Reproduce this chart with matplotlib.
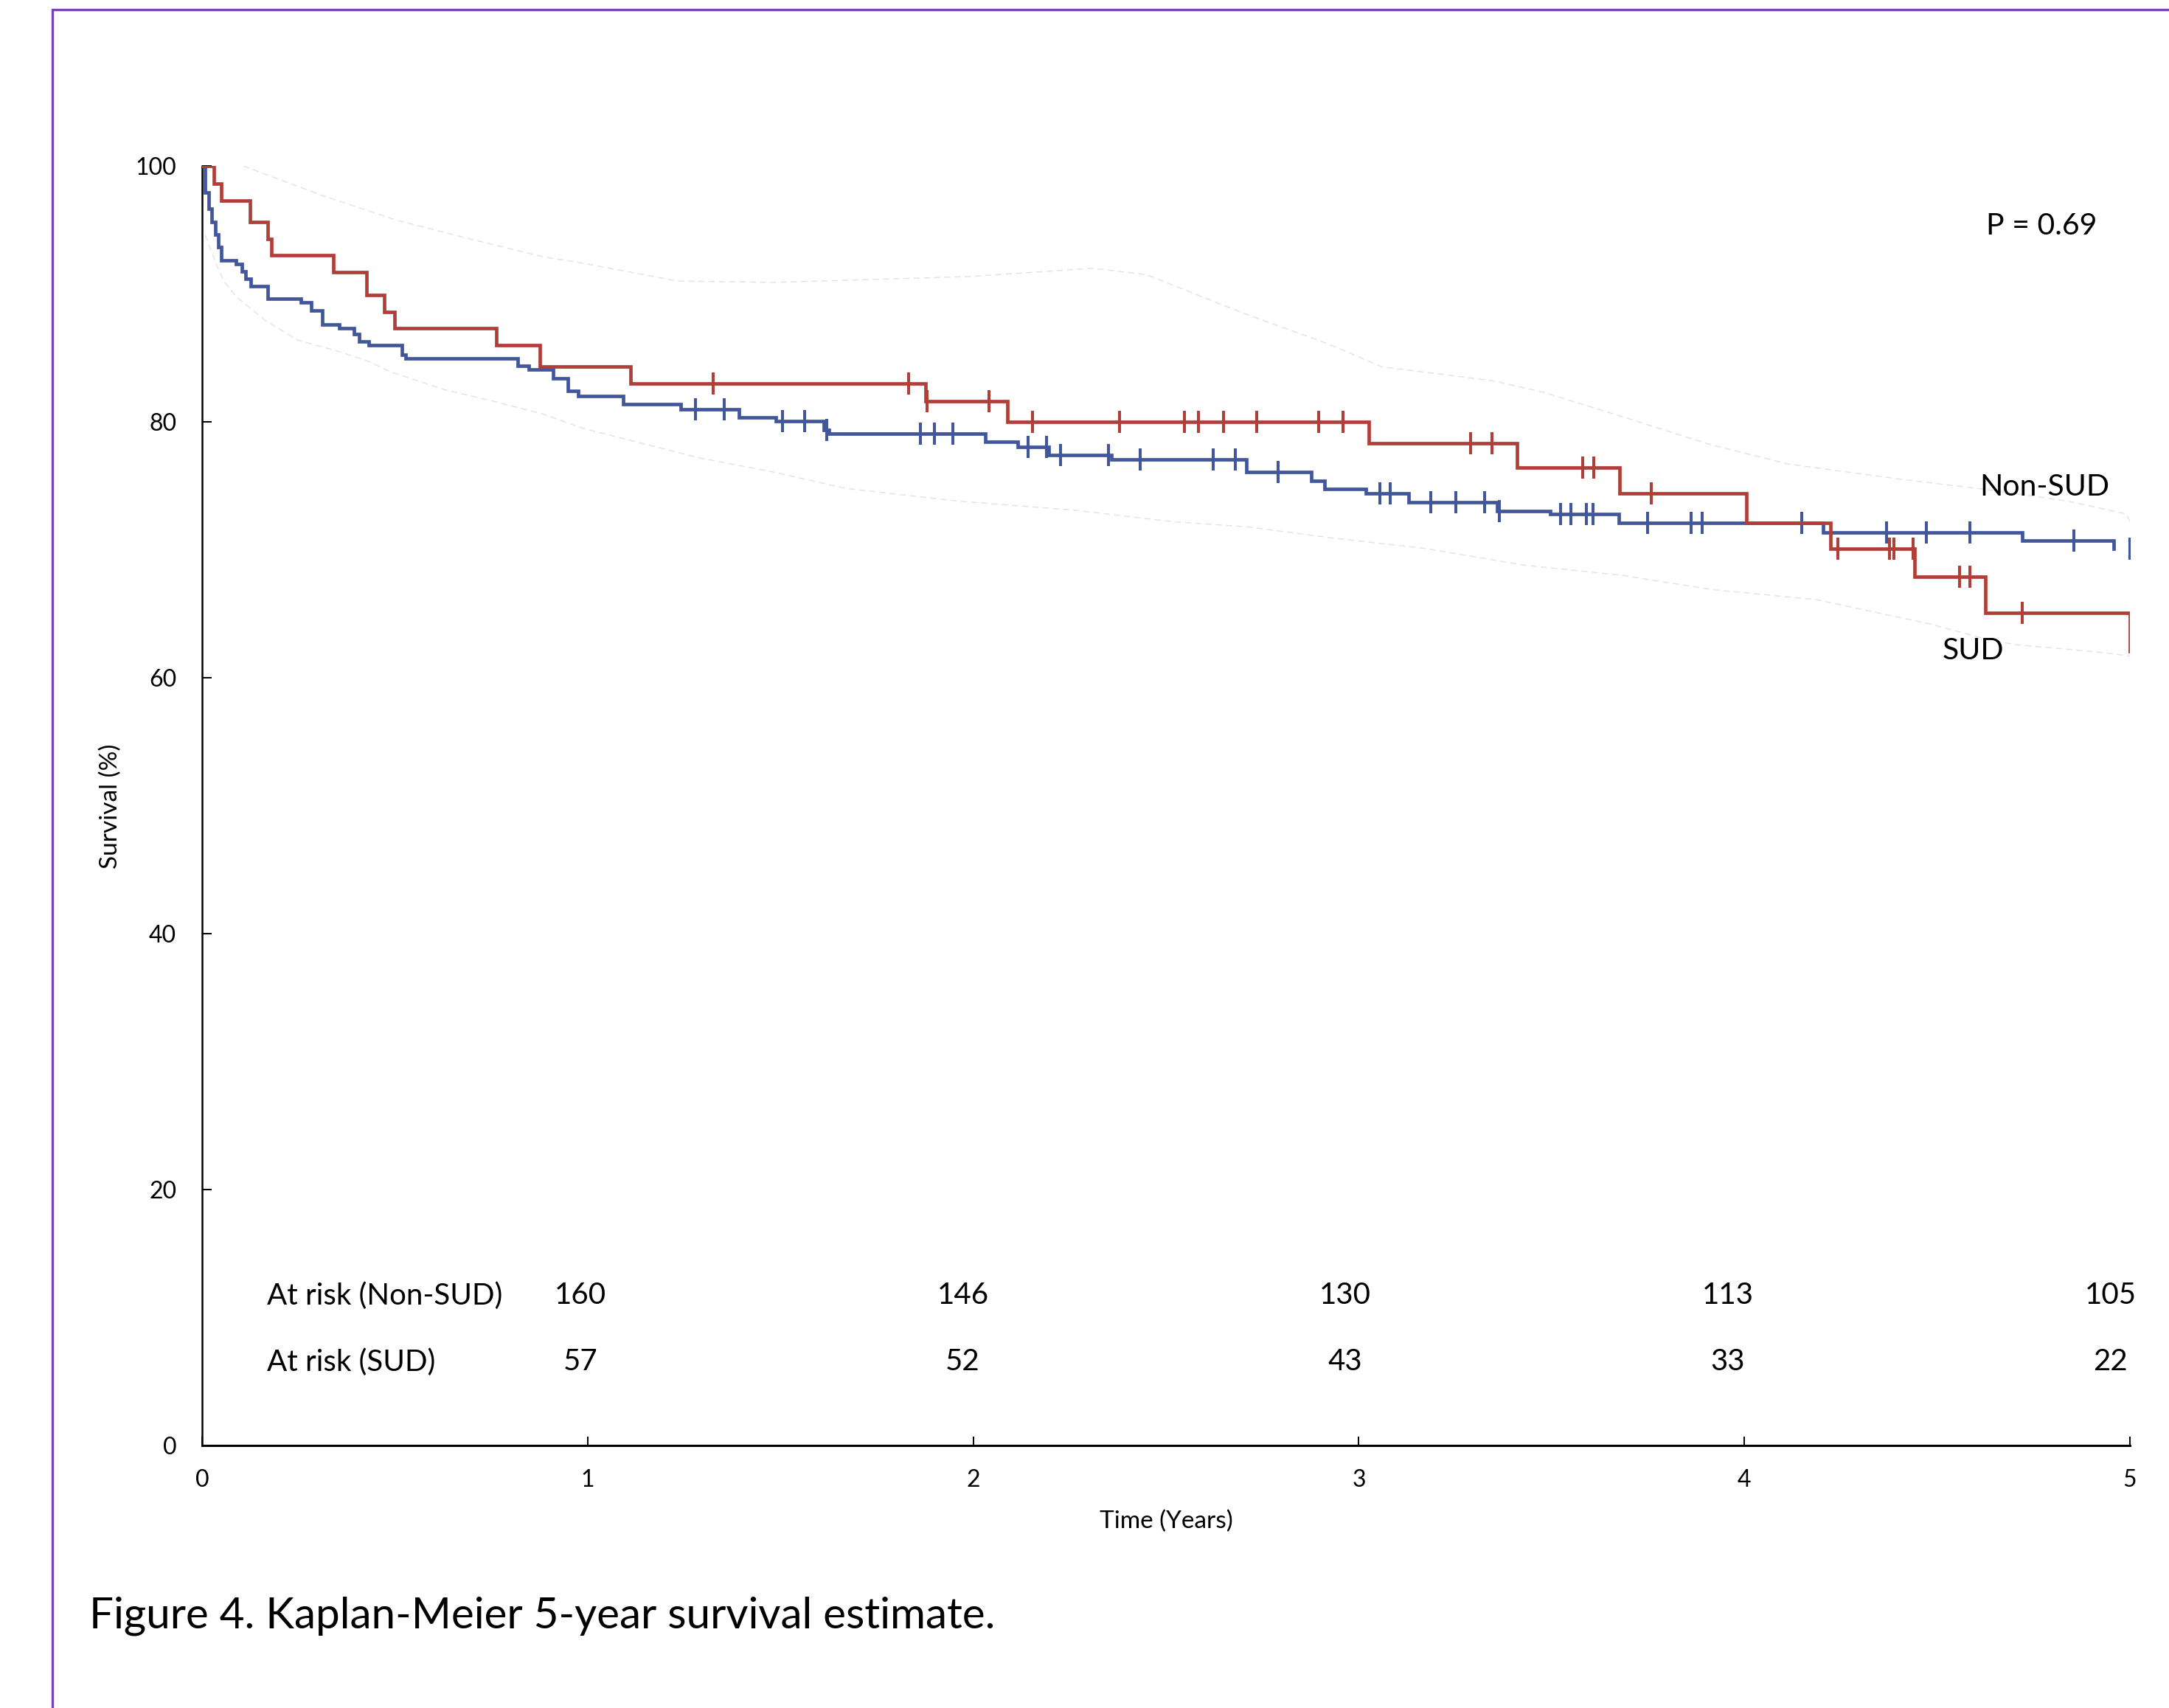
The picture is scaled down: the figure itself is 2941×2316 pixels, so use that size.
import numpy as np
import matplotlib
matplotlib.use("Agg")
import matplotlib.pyplot as plt
from matplotlib.patches import Rectangle

plt.rcParams['font.family'] = ['Lato', 'DejaVu Sans']

# ---------------- data ----------------
years = [0, 1, 2, 3, 4, 5]
yticks = [0, 20, 40, 60, 80, 100]

# SUD (red) Kaplan-Meier: event times (years) and survival after each event (%)
sud_times = [0.031, 0.050, 0.125, 0.171, 0.180, 0.340, 0.426, 0.472, 0.499, 0.764,
             0.876, 1.111, 1.876, 2.089, 3.026, 3.411, 3.676, 4.006, 4.223, 4.442,
             4.625, 5.0]
sud_surv = [98.6, 97.3, 95.6, 94.3, 93.0, 91.7, 89.9, 88.6, 87.3, 86.0,
            84.3, 83.0, 81.6, 80.0, 78.35, 76.4, 74.4, 72.1, 70.1, 67.9,
            65.1, 62.1]
sud_censored = [1.326, 1.833, 1.880, 2.040, 2.153, 2.379, 2.548, 2.584, 2.650, 2.736,
                2.895, 2.960, 3.290, 3.345, 3.580, 3.609, 3.759, 4.243, 4.377, 4.387,
                4.438, 4.558, 4.585, 4.720]

# Non-SUD (blue)
non_times = [0.008, 0.018, 0.024, 0.034, 0.043, 0.050, 0.088, 0.104, 0.113, 0.126,
             0.171, 0.257, 0.283, 0.311, 0.356, 0.394, 0.407, 0.432, 0.518, 0.528,
             0.818, 0.847, 0.911, 0.949, 0.976, 1.092, 1.242, 1.392, 1.4875, 1.612,
             1.625, 2.031, 2.116, 2.195, 2.358, 2.709, 2.876, 2.912, 3.018, 3.129,
             3.359, 3.496, 3.675, 4.205, 4.720, 4.958]
non_surv = [97.9, 96.66, 95.6, 94.64, 93.68, 92.62, 92.33, 91.76, 91.18, 90.6,
            89.64, 89.36, 88.68, 87.63, 87.34, 86.86, 86.28, 85.99, 85.23, 84.94,
            84.36, 84.07, 83.4, 82.44, 82.0, 81.37, 80.98, 80.35, 80.06, 79.35,
            79.06, 78.42, 78.04, 77.43, 77.08, 76.08, 75.41, 74.74, 74.39, 73.74,
            73.04, 72.81, 72.08, 71.37, 70.74, 70.09]
non_censored = [1.279, 1.355, 1.506, 1.562, 1.620, 1.8625, 1.899, 1.947, 2.143, 2.191,
                2.227, 2.350, 2.434, 2.623, 2.680, 2.791, 3.054, 3.082, 3.186, 3.252,
                3.327, 3.365, 3.523, 3.551, 3.590, 3.607, 3.749, 3.861, 3.890, 4.148,
                4.368, 4.472, 4.585, 4.854, 5.0]

# faint confidence band
band_upper_t = [0.107, 0.311, 0.50, 0.694, 0.885, 0.987, 1.234, 1.485, 1.987, 2.31,
                2.45, 2.70, 2.92, 3.06, 3.35, 3.48, 3.684, 3.914, 4.114, 4.41,
                4.63, 4.84, 4.99, 5.0]
band_upper_s = [100.0, 97.7, 95.8, 94.3, 92.9, 92.4, 91.0, 90.9, 91.35, 92.0,
                91.5, 88.5, 86.1, 84.3, 83.2, 82.3, 80.4, 78.2, 76.7, 75.5,
                74.7, 73.8, 72.8, 72.2]
band_lower_t = [0.008, 0.040, 0.056, 0.088, 0.165, 0.247, 0.343, 0.426, 0.49, 0.63,
                0.757, 0.885, 0.987, 1.287, 1.478, 1.669, 1.962, 2.262, 2.517, 2.709,
                2.938, 3.174, 3.429, 3.684, 3.914, 4.188, 4.482, 4.63, 4.70, 4.92, 5.0]
band_lower_s = [94.6, 92.1, 91.0, 89.8, 87.9, 86.4, 85.6, 84.8, 83.9, 82.5,
                81.6, 80.6, 79.5, 77.2, 76.1, 74.8, 73.8, 73.1, 72.2, 71.8,
                70.9, 70.1, 68.8, 68.0, 66.9, 66.1, 64.2, 63.0, 62.6, 62.0, 61.7]

risk_years = [1, 2, 3, 4, 5]
risk_non_sud = [160, 146, 130, 113, 105]
risk_sud = [57, 52, 43, 33, 22]

p_text = "P = 0.69"
caption = "Figure 4. Kaplan-Meier 5-year survival estimate."

# ---------------- figure ----------------
W, H = 2941, 2316
fig = plt.figure(figsize=(W / 100, H / 100), dpi=100)
fig.patch.set_facecolor('white')

def fx(px):
    return px / W

def fy(py):
    return 1 - py / H

# purple frame (extends beyond right/bottom edges)
frame = Rectangle((fx(71), fy(H + 60)), fx(W + 100) - fx(71), fy(13) - fy(H + 60),
                  transform=fig.transFigure, fill=False, edgecolor='#7B44B8',
                  linewidth=2.4, clip_on=False)
fig.add_artist(frame)

x0, x1 = 274, 2888
y0, y1 = 1960, 225
ax = fig.add_axes([fx(x0), fy(y0), fx(x1) - fx(x0), fy(y1) - fy(y0)])
ax.set_xlim(0, 5)
ax.set_ylim(0, 100)
for s in ['top', 'right']:
    ax.spines[s].set_visible(False)
ax.spines['left'].set_linewidth(1.8)
ax.spines['bottom'].set_linewidth(2.2)
ax.set_xticks(years)
ax.set_yticks(yticks)
ax.tick_params(axis='both', direction='in', length=9, width=1.4, labelsize=23,
               colors='black')
ax.tick_params(axis='x', pad=23)
ax.tick_params(axis='y', pad=25)
ax.patch.set_alpha(0)

RED = '#B03F3A'
BLUE = '#42569C'

# confidence band (very faint)
ax.plot(band_upper_t, band_upper_s, color='#e2e2e2', lw=1.0, ls=(0, (6, 4)), zorder=1)
ax.plot(band_lower_t, band_lower_s, color='#e2e2e2', lw=1.0, ls=(0, (6, 4)), zorder=1)

def km(times, surv, censored, color, z):
    t = np.concatenate([[0.0], times])
    s = np.concatenate([[100.0], surv])
    ax.step(t, s, where='post', color=color, lw=3.4, zorder=z, solid_joinstyle='miter')
    c = np.asarray(censored)
    idx = np.searchsorted(t, c, side='right') - 1
    ax.plot(c, s[idx], ls='none', marker='|', markersize=21, mew=2.9,
            color=color, zorder=z)

km(non_times, non_surv, non_censored, BLUE, 3)
km(sud_times, sud_surv, sud_censored, RED, 4)

# text annotations
fs_big = 29.5
fig.text(fx(2693), fy(306), p_text, ha='left', va='center', fontsize=fs_big)
fig.text(fx(2684), fy(660), 'Non-SUD', ha='left', va='center', fontsize=fs_big)
fig.text(fx(2634), fy(883), 'SUD', ha='left', va='center', fontsize=fs_big)

fs_risk = 29
fig.text(fx(362), fy(1757), 'At risk (Non-SUD)', ha='left', va='center', fontsize=fs_risk)
fig.text(fx(362), fy(1847), 'At risk (SUD)', ha='left', va='center', fontsize=fs_risk)
for yr, a, b in zip(risk_years, risk_non_sud, risk_sud):
    xp = yr * 0.992 - 0.011
    px = x0 + xp * (x1 - x0) / 5
    fig.text(fx(px), fy(1757), str(a), ha='center', va='center', fontsize=fs_risk)
    fig.text(fx(px), fy(1847), str(b), ha='center', va='center', fontsize=fs_risk)

fig.text(fx(150), fy(1093), 'Survival (%)', rotation=90, ha='center', va='center',
         fontsize=24)
fig.text(fx(1581), fy(2063), 'Time (Years)', ha='center', va='center', fontsize=24)

fig.text(fx(121), fy(2208), caption, ha='left', va='baseline', fontsize=42)

fig.savefig('out.png', dpi=100, facecolor='white')
